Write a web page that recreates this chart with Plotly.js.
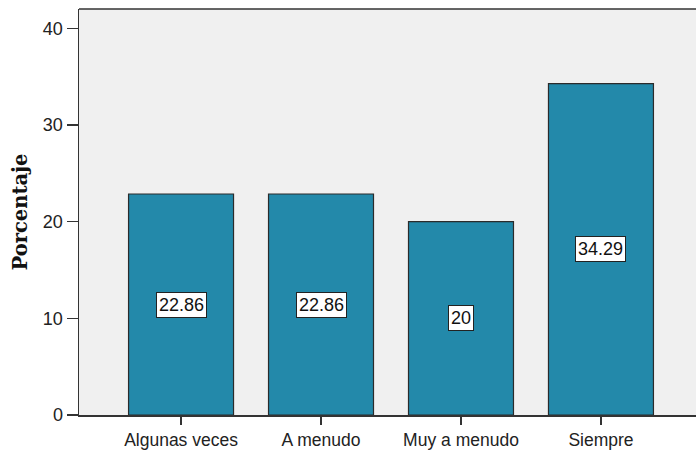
<!DOCTYPE html>
<html>
<head>
<meta charset="utf-8">
<script src="https://cdn.plot.ly/plotly-3.0.1.min.js"></script>
<style>html,body{margin:0;padding:0;background:#fff}#chart{width:696px;height:450px}</style>
</head>
<body>
<div id="chart"></div>
<script>
const categories = ["Algunas veces", "A menudo", "Muy a menudo", "Siempre"];
const values = [22.86, 22.86, 20, 34.29];
const valueLabels = ["22.86", "22.86", "20", "34.29"];
const yTicks = [0, 10, 20, 30, 40];

const trace = {
  type: "bar",
  x: categories,
  y: values,
  width: 0.75,
  marker: { color: "#2389aa", line: { color: "#2b2b2b", width: 1.2 } },
  hoverinfo: "none"
};

const annotations = categories.map((c, i) => ({
  x: c, y: values[i] / 2, xref: "x", yref: "y",
  text: valueLabels[i], showarrow: false,
  font: { family: "Liberation Sans, Arial, sans-serif", size: 18, color: "#111" },
  bgcolor: "#ffffff", bordercolor: "#222", borderwidth: 1, borderpad: 2
}));

const layout = {
  width: 696, height: 450,
  margin: { l: 79, r: 0, t: 9, b: 35 },
  paper_bgcolor: "#ffffff",
  plot_bgcolor: "#f0f0f0",
  showlegend: false,
  bargap: 0.25,
  xaxis: {
    type: "category",
    range: [-0.729, 3.679],
    showgrid: false, zeroline: false,
    showline: true, linecolor: "#333", linewidth: 1.5,
    ticks: "outside", ticklen: 8, tickwidth: 1.5, tickcolor: "#333",
    tickfont: { family: "Liberation Sans, Arial, sans-serif", size: 17.5, color: "#222" },
    fixedrange: true
  },
  yaxis: {
    range: [0, 42],
    tickvals: yTicks, ticktext: yTicks.map(String),
    showgrid: false, zeroline: false,
    showline: true, linecolor: "#333", linewidth: 1.5,
    ticks: "outside", ticklen: 11, tickwidth: 1.5, tickcolor: "#333",
    tickfont: { family: "Liberation Sans, Arial, sans-serif", size: 18, color: "#222" },
    title: { text: "Porcentaje", font: { family: "DejaVu Serif, serif", size: 19.5, color: "#111", weight: "bold" }, standoff: 10 },
    fixedrange: true
  },
  shapes: [{
    type: "line", xref: "paper", yref: "paper", x0: 0, x1: 1, y0: 1, y1: 1,
    line: { color: "#333", width: 1.5 }
  }],
  annotations: annotations
};

Plotly.newPlot("chart", [trace], layout, { staticPlot: true, displayModeBar: false });
</script>
</body>
</html>
